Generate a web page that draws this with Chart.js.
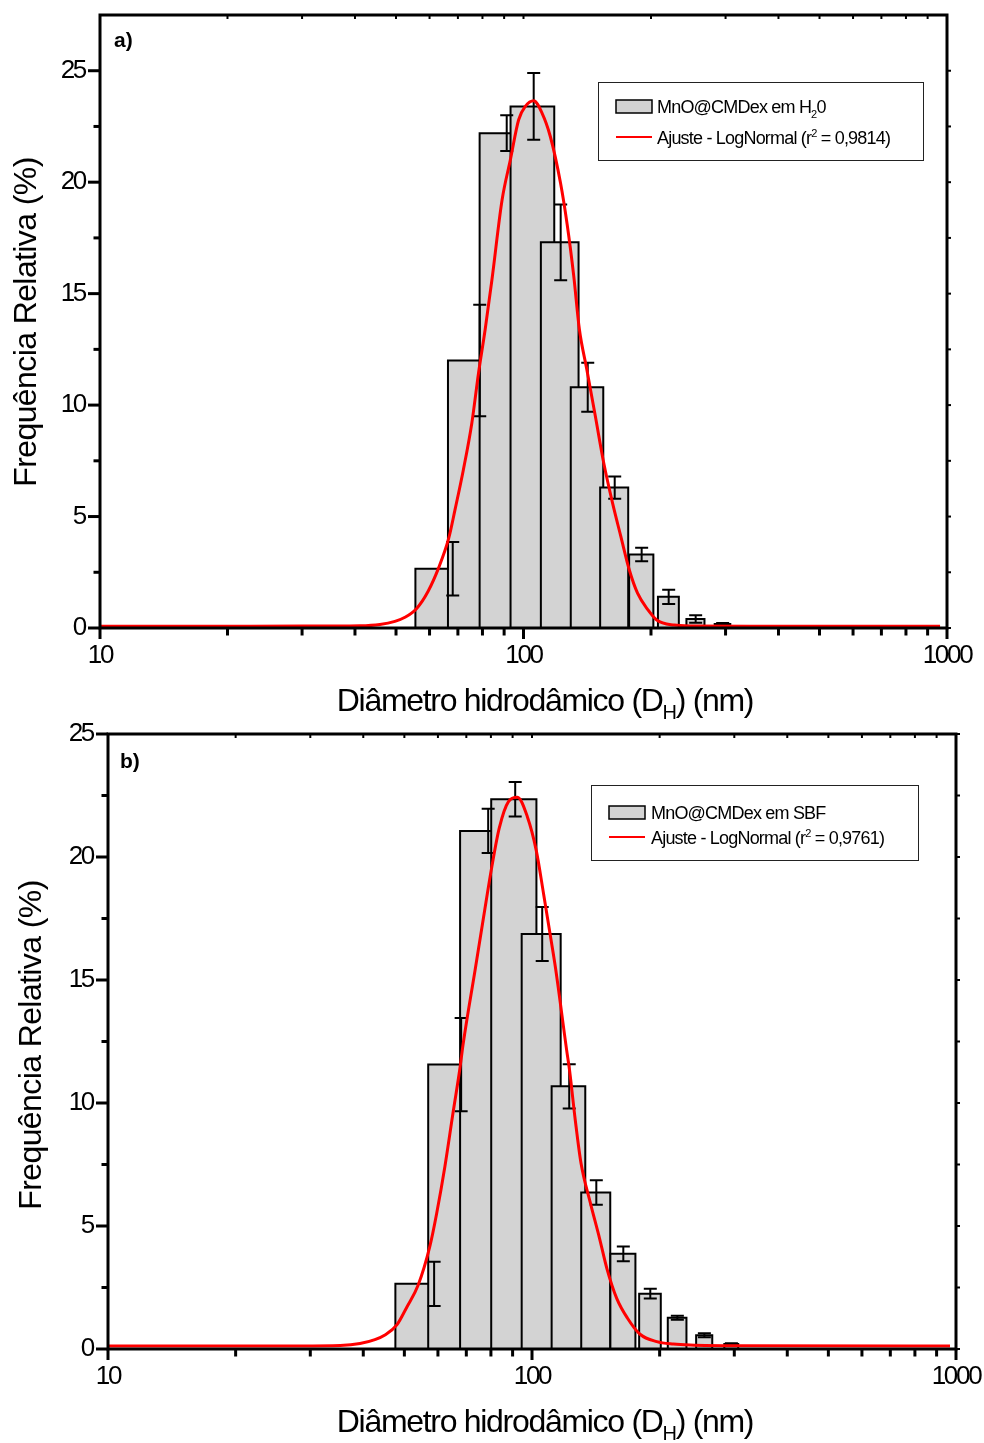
<!DOCTYPE html>
<html><head><meta charset="utf-8">
<script src="https://cdn.jsdelivr.net/npm/chart.js@4"></script>
<style>
html,body{margin:0;padding:0;background:#fff;}
#wrap{position:relative;width:984px;height:1443px;background:#fff;}
.pane{position:absolute;left:0;width:984px;}
#pa{top:0;height:720px;}
#pb{top:720px;height:723px;}
</style></head><body>
<div id="wrap">
<div class="pane" id="pa"><canvas id="ca"></canvas></div>
<div class="pane" id="pb"><canvas id="cb"></canvas></div>
</div>
<script>
// ---------- data ----------
// Panel a (H2O)
const binsA = [68.06, 78.82, 91.28, 105.7, 122.4, 141.8, 164.2, 190.1, 220.2, 255.0, 295.3];
const freqA = [2.66, 12.0, 22.2, 23.4, 17.3, 10.8, 6.3, 3.3, 1.4, 0.4, 0.18];
const errA  = [1.2, 2.5, 0.8, 1.5, 1.7, 1.1, 0.5, 0.3, 0.32, 0.17, 0.04];
const curveAx = [10, 22.6, 34.9, 41.1, 45.8, 49.7, 52.5, 55.95, 59.5, 63.1, 66.6, 68.9, 72.1, 75.5, 78.3, 81.2, 84.2, 89.0, 93.1, 97.4, 101, 105.7, 110.6, 115.7, 122.3, 126.8, 131.4, 135.5, 141.1, 147.8, 154.7, 162.3, 169.8, 177.8, 185.9, 196.8, 206.3, 226.8, 248.5, 342.6, 963];
const curveAy = [0.08, 0.08, 0.09, 0.1, 0.16, 0.3, 0.48, 0.88, 1.64, 2.72, 4.03, 5.3, 7.09, 9.19, 11.43, 13.4, 15.6, 19.2, 21.0, 22.8, 23.4, 23.65, 23.1, 22.05, 19.96, 18.1, 15.8, 13.4, 11.6, 9.5, 7.4, 5.6, 4.1, 2.6, 1.56, 0.81, 0.36, 0.13, 0.09, 0.08, 0.08];
// Panel b (SBF)
const binsB = [58.77, 68.06, 78.82, 91.28, 105.7, 122.4, 141.8, 164.2, 190.1, 220.2, 255.0, 295.3];
const freqB = [2.65, 11.56, 21.06, 22.35, 16.87, 10.68, 6.36, 3.87, 2.25, 1.27, 0.56, 0.2];
const errB  = [0.9, 1.9, 0.9, 0.7, 1.1, 0.9, 0.5, 0.3, 0.2, 0.08, 0.08, 0.03];
const curveBx = [10, 28.4, 35.3, 39.3, 42.6, 45.0, 48.0, 50.7, 53.9, 57.4, 59.6, 62.3, 65.1, 67.6, 68.8, 73.4, 76.9, 80.4, 83.7, 88.0, 92.4, 97.5, 102.3, 106.5, 110.5, 113.6, 120.7, 122.6, 126.5, 130.5, 137, 144.3, 150.3, 158.5, 168, 179.8, 196.9, 215.6, 235.9, 309.5, 968];
const curveBy = [0.12, 0.12, 0.14, 0.22, 0.38, 0.57, 0.98, 1.71, 2.6, 4.16, 5.52, 7.41, 9.58, 11.4, 12.4, 15.4, 17.57, 19.6, 21.17, 22.25, 22.43, 21.64, 20.28, 18.5, 16.8, 15.5, 12.15, 11.34, 9.3, 7.55, 6.0, 4.5, 3.25, 2.05, 1.25, 0.6, 0.3, 0.2, 0.16, 0.13, 0.12];
const binWidthA = 25;     // nm
const binWidthB = 22.3;   // nm

// ticks
const xMajor = [10, 100, 1000];
const xMinor = [20, 30, 40, 50, 60, 70, 80, 90, 200, 300, 400, 500, 600, 700, 800, 900];
const yMajor = [0, 5, 10, 15, 20, 25];
const yMinor = [2.5, 7.5, 12.5, 17.5, 22.5];

// texts
const xTitleParts = ['Diâmetro hidrodâmico (D', 'H', ') (nm)'];
const yTitle = 'Frequência Relativa (%)';
const seriesNameA = ['MnO@CMDex em H', '2', '0'];
const seriesNameB = ['MnO@CMDex em SBF', '', ''];
const fitLabelA = ['Ajuste - LogNormal (r', '2', ' = 0,9814)'];
const fitLabelB = ['Ajuste - LogNormal (r', '2', ' = 0,9761)'];

// ---------- drawing ----------
const FONT = "'Liberation Sans', Arial, sans-serif";
const BAR_FILL = '#d3d3d3';

function drawErrorBars(chart, P) {
  const ctx = chart.ctx, xs = chart.scales.x, ys = chart.scales.y;
  ctx.save();
  ctx.strokeStyle = '#000'; ctx.lineWidth = 2; ctx.lineCap = 'butt';
  P.bins.forEach((c, i) => {
    const px = xs.getPixelForValue(c);
    const yt = ys.getPixelForValue(P.freq[i] + P.err[i]);
    const yb = ys.getPixelForValue(Math.max(P.freq[i] - P.err[i], 0));
    ctx.beginPath();
    ctx.moveTo(px, yt); ctx.lineTo(px, yb);
    ctx.moveTo(px - 6.5, yt); ctx.lineTo(px + 6.5, yt);
    ctx.moveTo(px - 6.5, yb); ctx.lineTo(px + 6.5, yb);
    ctx.stroke();
  });
  ctx.restore();
}

function line(ctx, x1, y1, x2, y2) { ctx.beginPath(); ctx.moveTo(x1, y1); ctx.lineTo(x2, y2); ctx.stroke(); }

function drawFrame(chart) {
  const ctx = chart.ctx, a = chart.chartArea, xs = chart.scales.x, ys = chart.scales.y;
  ctx.save();
  ctx.strokeStyle = '#000'; ctx.lineCap = 'butt';
  ctx.lineWidth = 3;
  ctx.strokeRect(a.left, a.top, a.right - a.left, a.bottom - a.top);
  xMajor.forEach(v => { const p = xs.getPixelForValue(v); line(ctx, p, a.bottom, p, a.bottom + 11); });
  xMinor.forEach(v => { const p = xs.getPixelForValue(v); line(ctx, p, a.bottom, p, a.bottom + 7.5); });
  yMajor.forEach(v => { const p = ys.getPixelForValue(v); line(ctx, a.left - 12, p, a.left, p); });
  yMinor.forEach(v => { const p = ys.getPixelForValue(v); line(ctx, a.left - 6.5, p, a.left, p); });
  ctx.lineWidth = 2;
  xMajor.concat(xMinor).forEach(v => { const p = xs.getPixelForValue(v); line(ctx, p, a.top, p, a.top + 4); });
  yMajor.concat(yMinor).forEach(v => { const p = ys.getPixelForValue(v); line(ctx, a.right, p, a.right + 4, p); });
  ctx.restore();
}

// parts: [main, script, main2]
function drawRich(ctx, parts, x, y, size, subSize, dy, spacing) {
  ctx.letterSpacing = spacing;
  ctx.textAlign = 'left'; ctx.textBaseline = 'alphabetic';
  ctx.font = size + 'px ' + FONT;
  ctx.fillText(parts[0], x, y);
  let cx = x + ctx.measureText(parts[0]).width;
  if (parts[1]) {
    ctx.font = subSize + 'px ' + FONT;
    ctx.fillText(parts[1], cx, y + dy);
    cx += ctx.measureText(parts[1]).width;
  }
  if (parts[2]) {
    ctx.font = size + 'px ' + FONT;
    ctx.fillText(parts[2], cx, y);
  }
}
function richWidth(ctx, parts, size, subSize, spacing) {
  ctx.letterSpacing = spacing;
  ctx.font = size + 'px ' + FONT;
  let w = ctx.measureText(parts[0]).width + ctx.measureText(parts[2] || '').width;
  ctx.font = subSize + 'px ' + FONT;
  w += ctx.measureText(parts[1] || '').width;
  return w;
}

function drawTexts(chart, P) {
  const ctx = chart.ctx;
  ctx.save();
  ctx.fillStyle = '#000';
  // x title
  const w = richWidth(ctx, xTitleParts, 32, 20, '-1.3px');
  drawRich(ctx, xTitleParts, P.xTitle.cx - w / 2, P.xTitle.y, 32, 20, 8, '-1.3px');
  // y title
  ctx.save();
  ctx.translate(P.yTitle.cx, P.yTitle.cy);
  ctx.rotate(-Math.PI / 2);
  ctx.letterSpacing = '-0.6px';
  ctx.font = '32px ' + FONT;
  ctx.textAlign = 'center'; ctx.textBaseline = 'middle';
  ctx.fillText(yTitle, 0, 0);
  ctx.restore();
  // panel label
  ctx.letterSpacing = '0px';
  ctx.font = 'bold 21px ' + FONT;
  ctx.textAlign = 'left'; ctx.textBaseline = 'alphabetic';
  ctx.fillText(P.label.t, P.label.x, P.label.y);
  // legend
  const L = P.legend;
  ctx.lineWidth = 1; ctx.strokeStyle = '#222';
  ctx.strokeRect(L.x + 0.5, L.y + 0.5, L.w, L.h);
  ctx.fillStyle = BAR_FILL; ctx.fillRect(L.swX, L.row1 - 6, 36, 13);
  ctx.strokeStyle = '#000'; ctx.lineWidth = 1.5; ctx.strokeRect(L.swX, L.row1 - 6, 36, 13);
  ctx.strokeStyle = '#ff0000'; ctx.lineWidth = 2; line(ctx, L.swX, L.row2, L.swX + 36, L.row2);
  ctx.fillStyle = '#000';
  drawRich(ctx, L.name, L.txX, L.row1 + 7, 18, 11, 5, '-0.8px');
  drawRich(ctx, L.fit, L.txX, L.row2 + 7, 18, 11, -7, '-0.8px');
  ctx.restore();
}

function panelPlugin(P) {
  return {
    id: 'panel' + P.key,
    beforeDraw(chart) { chart.ctx.letterSpacing = '-2.3px'; },
    afterDatasetDraw(chart, args) { if (args.index === P.bins.length - 1) drawErrorBars(chart, P); },
    afterDraw(chart) { drawFrame(chart); drawTexts(chart, P); }
  };
}

function makeChart(canvasId, P) {
  const datasets = P.bins.map((c, i) => {
    const L = c - P.binWidth / 2, R = c + P.binWidth / 2, h = P.freq[i];
    return {
      data: [{x: L, y: 0}, {x: L, y: h}, {x: R, y: h}, {x: R, y: 0}],
      showLine: true, fill: 'origin', backgroundColor: BAR_FILL,
      borderColor: '#000', borderWidth: 2, pointRadius: 0, tension: 0,
      borderJoinStyle: 'miter', order: 100 - i
    };
  });
  datasets.push({
    data: P.curveX.map((x, i) => ({x: x, y: P.curveY[i]})),
    showLine: true, fill: false, borderColor: '#ff0000', borderWidth: 3,
    pointRadius: 0, cubicInterpolationMode: 'monotone', order: 0
  });
  const tickFont = {family: FONT, size: 26, lineHeight: 1};
  return new Chart(document.getElementById(canvasId), {
    type: 'scatter',
    data: {datasets},
    options: {
      responsive: true, maintainAspectRatio: false, animation: false,
      devicePixelRatio: 1, events: [],
      layout: {padding: {left: 0, right: P.padR, top: P.padT, bottom: 0}},
      plugins: {legend: {display: false}, tooltip: {enabled: false}},
      scales: {
        x: {
          type: 'logarithmic', min: 10, max: 1000, position: 'bottom',
          afterFit: s => { s.height = P.xAxisH; s.paddingLeft = 0; s.paddingRight = 0; s.paddingTop = 0; s.paddingBottom = 0; },
          afterBuildTicks: s => { s.ticks = xMajor.map(v => ({value: v})); },
          grid: {display: false, drawTicks: false}, border: {display: false},
          ticks: {autoSkip: false, maxRotation: 0, minRotation: 0, padding: 15, color: '#000',
                  font: tickFont, callback: v => String(v)}
        },
        y: {
          type: 'linear', min: 0, max: P.yMax, position: 'left',
          afterFit: s => { s.width = P.yAxisW; s.paddingLeft = 0; s.paddingRight = 0; s.paddingTop = 0; s.paddingBottom = 0; },
          afterBuildTicks: s => { s.ticks = yMajor.map(v => ({value: v})); },
          grid: {display: false, drawTicks: false}, border: {display: false},
          ticks: {padding: 15, color: '#000', font: tickFont, callback: v => String(v)}
        }
      }
    },
    plugins: [panelPlugin(P)]
  });
}

makeChart('ca', {
  key: 'a', bins: binsA, freq: freqA, err: errA, binWidth: binWidthA,
  curveX: curveAx, curveY: curveAy, yMax: 27.5,
  yAxisW: 100, padR: 37, padT: 15, xAxisH: 92,
  xTitle: {cx: 545, y: 711}, yTitle: {cx: 27, cy: 322},
  label: {t: 'a)', x: 114, y: 47},
  legend: {x: 598, y: 82, w: 325, h: 78, row1: 106, row2: 137, swX: 616, txX: 657, name: seriesNameA, fit: fitLabelA}
});
makeChart('cb', {
  key: 'b', bins: binsB, freq: freqB, err: errB, binWidth: binWidthB,
  curveX: curveBx, curveY: curveBy, yMax: 25,
  yAxisW: 108, padR: 28, padT: 14, xAxisH: 94,
  xTitle: {cx: 545, y: 712}, yTitle: {cx: 32, cy: 325},
  label: {t: 'b)', x: 120, y: 48},
  legend: {x: 591, y: 65, w: 327, h: 75, row1: 92, row2: 117, swX: 609, txX: 651, name: seriesNameB, fit: fitLabelB}
});
</script>
</body></html>
